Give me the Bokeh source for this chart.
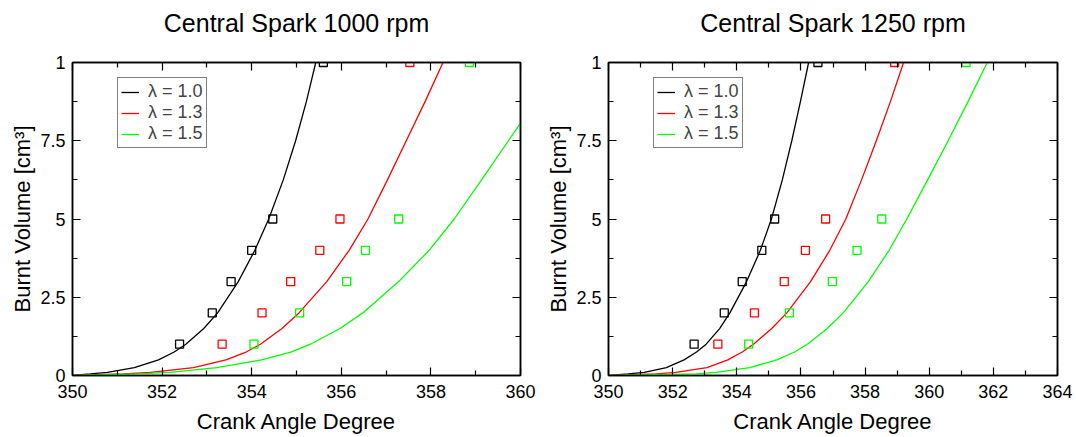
from bokeh.plotting import figure
from bokeh.models import Range1d, FixedTicker, LinearAxis, Legend, LegendItem
from bokeh.layouts import row
from bokeh.embed import file_html
from bokeh.resources import INLINE

FONT = "Liberation Sans"

series_labels = ["λ = 1.0", "λ = 1.3", "λ = 1.5"]
series_colors = ["#000000", "#ff0000", "#00ff00"]

# y axis: ticks and their printed labels
y_ticks = [0, 2.5, 5, 7.5, 10]
y_tick_labels = ["0", "2.5", "5", "7.5", "1"]
y_minor = [1.25, 3.75, 6.25, 8.75]

# measured burnt volume levels
meas_volume = [1, 2, 3, 4, 5, 10]

# burnt volume levels at which the model curves are tabulated
curve_vol = [0, 0.05, 0.1, 0.25, 0.5, 0.75, 1, 1.5, 2, 3, 4, 5, 6.25, 7.5, 8.75, 10]

# ---------------- 1000 rpm ----------------
x_ticks_1000 = [350, 352, 354, 356, 358, 360]
x_minor_1000 = [351, 353, 355, 357, 359]

meas_1000_l10 = [352.39, 353.12, 353.54, 354.00, 354.47, 355.60]
meas_1000_l13 = [353.34, 354.23, 354.87, 355.52, 355.97, 357.53]
meas_1000_l15 = [354.05, 355.07, 356.12, 356.54, 357.28, 358.86]

curve_1000_l10 = [350.0, 350.40, 350.78, 351.38, 351.92, 352.27, 352.53, 352.93,
                  353.24, 353.70, 354.07, 354.38, 354.705, 354.98, 355.22, 355.43]
curve_1000_l13 = [350.0, 351.14, 351.74, 352.70, 353.425, 353.875, 354.195, 354.675,
                  355.055, 355.675, 356.175, 356.595, 357.03, 357.45, 357.87, 358.27]
curve_1000_l15_vol = [0, 0.05, 0.1, 0.25, 0.5, 0.75, 1, 1.5, 2, 3, 4, 5, 6.25, 7.5, 8.06]
curve_1000_l15 = [350.0, 351.47, 352.17, 353.22, 354.22, 354.87, 355.31, 355.97,
                  356.48, 357.28, 357.96, 358.52, 359.13, 359.73, 360.0]

# ---------------- 1250 rpm ----------------
x_ticks_1250 = [350, 352, 354, 356, 358, 360, 362, 364]
x_minor_1250 = [351, 353, 355, 357, 359, 361, 363]

meas_1250_l10 = [352.67, 353.61, 354.17, 354.78, 355.18, 356.53]
meas_1250_l13 = [353.41, 354.55, 355.48, 356.14, 356.77, 358.92]
meas_1250_l15 = [354.37, 355.64, 356.98, 357.75, 358.52, 361.15]

curve_1250_l10 = [350.0, 350.615, 351.115, 351.805, 352.355, 352.745, 353.045, 353.465,
                  353.785, 354.305, 354.735, 355.08, 355.42, 355.715, 355.984, 356.24]
curve_1250_l13 = [350.0, 351.495, 352.095, 353.07, 353.72, 354.17, 354.52, 355.09,
                  355.56, 356.30, 356.90, 357.40, 357.89, 358.35, 358.79, 359.20]
curve_1250_l15 = [350.0, 352.75, 353.35, 354.40, 355.25, 355.80, 356.20, 356.82,
                  357.32, 358.10, 358.75, 359.30, 359.95, 360.59, 361.21, 361.81]


def style_axis(ax, show_labels, tick_font="18px"):
    ax.axis_line_color = "black"
    ax.axis_line_width = 1.5
    ax.major_tick_in = 8
    ax.major_tick_out = 0
    ax.minor_tick_in = 5
    ax.minor_tick_out = 0
    ax.major_tick_line_color = "black"
    ax.minor_tick_line_color = "black"
    ax.major_tick_line_width = 1.2
    ax.minor_tick_line_width = 1.2
    ax.major_label_text_font = FONT
    ax.major_label_text_font_size = tick_font
    ax.major_label_text_color = "black"
    ax.axis_label_text_font = FONT
    ax.axis_label_text_font_size = "22px"
    ax.axis_label_text_font_style = "normal"
    ax.axis_label_text_color = "black"
    if not show_labels:
        ax.major_label_text_color = None
        ax.major_label_text_font_size = "0px"
        ax.major_label_standoff = 0


def make_panel(title, x_end, x_ticks, x_minor, curves, meas, border_left, border_right):
    p = figure(width=538, height=437, title=None,
               x_range=Range1d(350, x_end), y_range=Range1d(0, 10),
               output_backend="svg", toolbar_location=None,
               min_border_left=border_left, min_border_right=border_right,
               min_border_top=62, min_border_bottom=62,
               x_axis_label="Crank Angle Degree",
               y_axis_label="Burnt Volume [cm³]")
    p.background_fill_color = "white"
    p.border_fill_color = "white"
    p.outline_line_color = "black"
    p.outline_line_width = 1.5
    p.grid.visible = False

    xt = FixedTicker(ticks=x_ticks, minor_ticks=x_minor)
    yt = FixedTicker(ticks=y_ticks, minor_ticks=y_minor)

    p.xaxis.ticker = xt
    p.yaxis.ticker = yt
    p.yaxis.major_label_overrides = {t: s for t, s in zip(y_ticks, y_tick_labels)}
    style_axis(p.xaxis[0], True)
    style_axis(p.yaxis[0], True)
    p.xaxis.major_label_standoff = 9
    p.xaxis.axis_label_standoff = 8
    p.yaxis.major_label_standoff = 7
    p.yaxis.axis_label_standoff = 2

    # top axis mirrors the x ticks and carries the panel heading
    top = LinearAxis(ticker=xt, axis_label=title)
    right = LinearAxis(ticker=yt)
    style_axis(top, False)
    style_axis(right, False)
    top.axis_label_text_font_size = "25px"
    top.axis_label_standoff = 26
    p.add_layout(top, "above")
    p.add_layout(right, "right")

    items = []
    for (cx, cy), color, label in zip(curves, series_colors, series_labels):
        r = p.line(cx, cy, line_color=color, line_width=1.3)
        items.append(LegendItem(label=label, renderers=[r]))
    for mx, color in zip(meas, series_colors):
        p.scatter(mx, meas_volume, marker="square", size=8,
                  fill_color=None, line_color=color, line_width=1.3)

    legend = Legend(items=items, location=(45, 227), margin=0,
                    padding=3, spacing=0, label_height=18, glyph_height=18,
                    glyph_width=18, label_standoff=9,
                    label_text_font=FONT, label_text_font_size="18px",
                    border_line_color="black", border_line_width=1,
                    background_fill_color="white", background_fill_alpha=1.0)
    p.add_layout(legend)
    return p


p1 = make_panel("Central Spark 1000 rpm", 360, x_ticks_1000, x_minor_1000,
                [(curve_1000_l10, curve_vol), (curve_1000_l13, curve_vol),
                 (curve_1000_l15, curve_1000_l15_vol)],
                [meas_1000_l10, meas_1000_l13, meas_1000_l15], 72, 18)
p2 = make_panel("Central Spark 1250 rpm", 364, x_ticks_1250, x_minor_1250,
                [(curve_1250_l10, curve_vol), (curve_1250_l13, curve_vol),
                 (curve_1250_l15, curve_vol)],
                [meas_1250_l10, meas_1250_l13, meas_1250_l15], 70, 19)

layout = row(p1, p2)
open("out.html", "w").write(file_html(layout, INLINE))
